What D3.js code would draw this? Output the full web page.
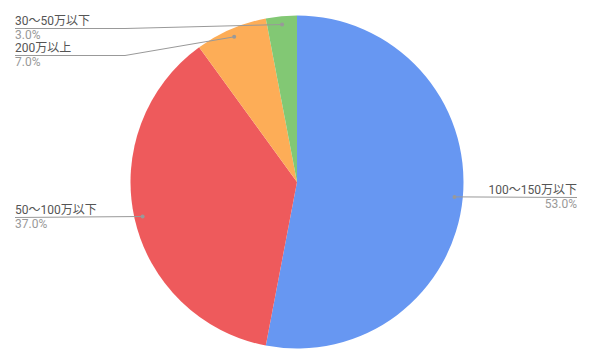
<!DOCTYPE html>
<html><head><meta charset="utf-8">
<script src="https://cdn.jsdelivr.net/npm/d3@7"></script>
<style>body{margin:0;background:#fff}svg{display:block}</style>
</head><body>
<svg id="c" width="592" height="359"></svg>
<script>
const categories = ["100〜150万以下", "50〜100万以下", "200万以上", "30〜50万以下"];
const values = [53.0, 37.0, 7.0, 3.0];
const colors = ["#6797f2", "#ee5a5c", "#fdad57", "#82c874"];
// label layout: side and text baseline y for each slice
const labelSide = ["right", "left", "left", "left"];
const labelY = [194, 214, 52, 25];

const W = 592, H = 359, cx = 297, cy = 182, R = 166.5;
const svg = d3.select("#c");
const g = svg.append("g").attr("transform", `translate(${cx},${cy})`);
const data = categories.map((c, i) => ({cat: c, v: values[i], color: colors[i], side: labelSide[i], ly: labelY[i]}));
const pie = d3.pie().sort(null).value(d => d.v);
const arcs = pie(data);
const arc = d3.arc().innerRadius(0).outerRadius(R);
g.selectAll("path.s").data(arcs).join("path").attr("class", "s")
  .attr("d", arc).attr("fill", d => d.data.color);

const dotArc = d3.arc().innerRadius(R * 0.95).outerRadius(R * 0.95);
const font = "Roboto, 'Noto Sans CJK JP', sans-serif";
const lab = svg.append("g");
arcs.forEach(a => {
  const [dx, dy] = dotArc.centroid(a);
  const px = cx + dx, py = cy + dy;
  const d = a.data;
  const lineY = d.ly + 3.5;
  let pts;
  let tx, anchor;
  if (d.side === "right") {
    tx = 577; anchor = "end";
    pts = [[px, py], [px, lineY], [tx, lineY]];
    pts = [[px, py], [tx, lineY]];
  } else {
    tx = 15; anchor = "start";
    pts = Math.abs(py - lineY) < 2 ? [[px, py], [tx, lineY]] : [[px, py], [125, lineY], [tx, lineY]];
  }
  lab.append("path").attr("d", d3.line()(pts)).attr("fill", "none")
    .attr("stroke", "#999").attr("stroke-width", 1);
  lab.append("circle").attr("cx", px).attr("cy", py).attr("r", 2).attr("fill", "#999");
  lab.append("text").attr("x", tx).attr("y", d.ly).attr("text-anchor", anchor)
    .attr("font-family", font).attr("font-size", 12).attr("fill", "#555").text(d.cat);
  lab.append("text").attr("x", tx).attr("y", d.ly + 13.5).attr("text-anchor", anchor)
    .attr("font-family", font).attr("font-size", 12).attr("fill", "#999").text(d.v.toFixed(1) + "%");
});
</script>
</body></html>
